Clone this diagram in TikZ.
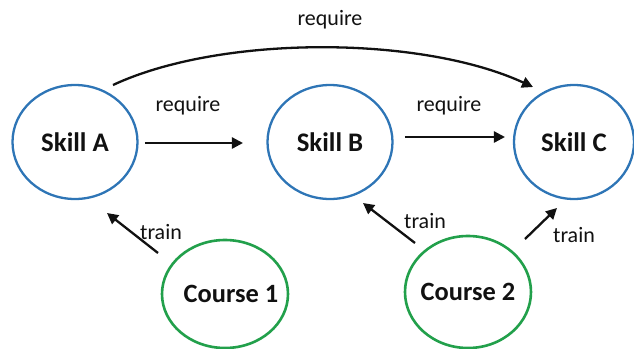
\documentclass[tikz,border=0pt]{standalone}
\usepackage{fontspec}
\setmainfont{Carlito}
\usepackage{tikz}
\usetikzlibrary{arrows.meta,positioning,calc,shapes.geometric}
\definecolor{ink}{HTML}{111111}
\definecolor{skillblue}{HTML}{2E75B6}
\definecolor{coursegreen}{HTML}{22A04B}
\tikzset{
  >={Triangle[length=5.5pt,width=5.5pt]},
  skill/.style={ellipse,draw=skillblue,line width=1.15pt,inner sep=0pt,minimum width=62.5pt,minimum height=57pt,font=\bfseries\fontsize{13.4}{16}\selectfont,text=ink},
  course/.style={ellipse,draw=coursegreen,line width=1.3pt,inner sep=0pt,minimum width=63pt,minimum height=54pt,font=\bfseries\fontsize{13.2}{16}\selectfont,text=ink},
  flow/.style={->,line width=1.15pt,color=ink},
  tag/.style={font=\fontsize{11}{13}\selectfont,text=ink,inner sep=0pt},
}
\begin{document}
\begin{tikzpicture}[x=0.5pt,y=-0.5pt]
  \useasboundingbox (0,0) rectangle (634,349);
  \node[skill] (skA) at (75,142) {Skill A};
  \node[skill] (skB) at (330,142) {Skill B};
  \node[skill,minimum width=60pt] (skC) at (574,142) {Skill C};
  \node[course] (crs1) at (225,294) {\makebox[0pt]{\hspace*{6pt}Course 1}};
  \node[course,minimum height=56pt] (crs2) at (468,292) {\makebox[0pt]{Course 2}};
  % require
  \draw[flow] ([shift={(70,1)}]skA.center) -- ([shift={(-87,1)}]skB.center);
  \draw[flow] ([shift={(75,-5)}]skB.center) -- ([shift={(-69,-5)}]skC.center);
  \draw[flow] ([shift={(38,-57)}]skA.center) .. controls (220,35) and (420,35) .. ([shift={(-41,-55)}]skC.center);
  \node[tag] (reqAB) at (188,106) {require};
  \node[tag] (reqBC) at (449,106) {require};
  \node[tag] (reqAC) at (330,20) {require};
  % train
  \draw[flow] ([shift={(-67,-41)}]crs1.center) -- ([shift={(32,71)}]skA.center);
  \draw[flow] ([shift={(-53,-49)}]crs2.center) -- ([shift={(33,61)}]skB.center);
  \draw[flow] ([shift={(57,-53)}]crs2.center) -- ([shift={(-17,66)}]skC.center);
  \node[tag] (trn1) at (161,232) {train};
  \node[tag] (trn2) at (425,221) {train};
  \node[tag] (trn3) at (574,235) {train};
\end{tikzpicture}
\end{document}
